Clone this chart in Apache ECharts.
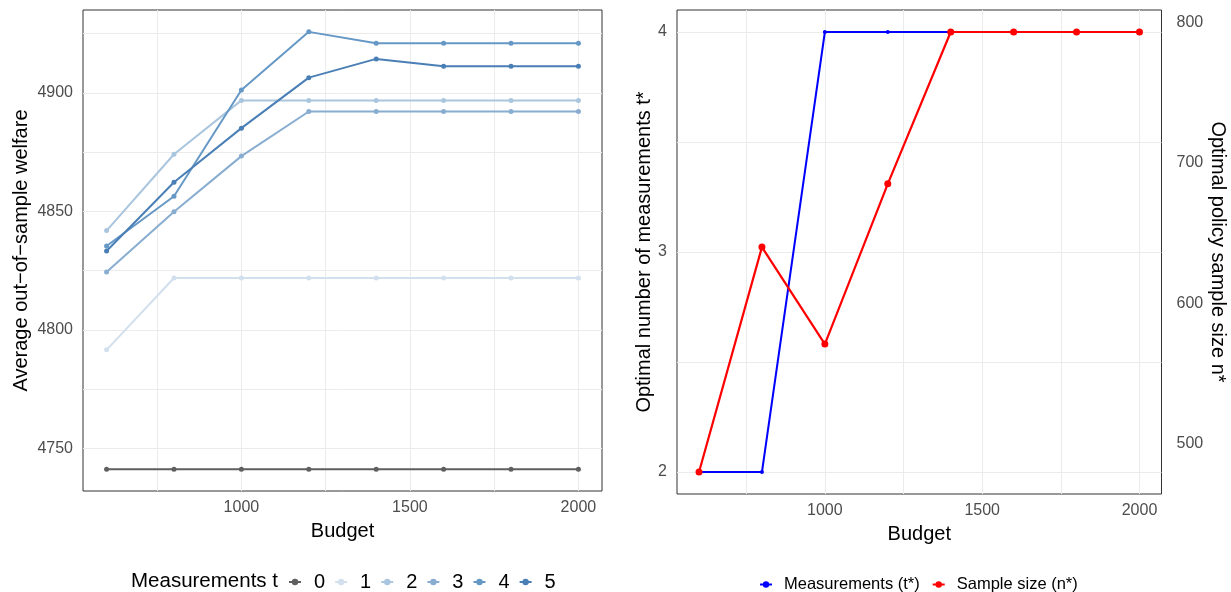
<!DOCTYPE html>
<html>
<head>
<meta charset="utf-8">
<script src="https://cdn.jsdelivr.net/npm/echarts@6/dist/echarts.min.js"></script>
<style>
html,body{margin:0;padding:0;background:#fff;}
#chart{width:1231px;height:592px;}
</style>
</head>
<body>
<div id="chart"></div>
<script>
// ---------- data ----------
const budget = [600, 800, 1000, 1200, 1400, 1600, 1800, 2000];
const measurementLevels = ['0', '1', '2', '3', '4', '5'];
const welfare_t0 = [4741.3, 4741.3, 4741.3, 4741.3, 4741.3, 4741.3, 4741.3, 4741.3];
const welfare_t1 = [4791.6, 4821.9, 4821.9, 4821.9, 4821.9, 4821.9, 4821.9, 4821.9];
const welfare_t2 = [4841.9, 4874.1, 4896.8, 4896.8, 4896.8, 4896.8, 4896.8, 4896.8];
const welfare_t3 = [4824.4, 4849.8, 4873.3, 4892.1, 4892.1, 4892.1, 4892.1, 4892.1];
const welfare_t4 = [4835.4, 4856.4, 4901.2, 4925.7, 4920.9, 4920.9, 4920.9, 4920.9];
const welfare_t5 = [4833.3, 4862.3, 4885.1, 4906.4, 4914.3, 4911.2, 4911.2, 4911.2];
const tStar = [2, 2, 4, 4, 4, 4, 4, 4];
const nStar = [480, 640, 571, 685, 793, 793, 793, 793];
const xTickLabels = [1000, 1500, 2000];
const xGridValues = [750, 1000, 1250, 1500, 1750, 2000];
const welfareTickLabels = [4750, 4800, 4850, 4900];
const welfareGridValues = [4750, 4775, 4800, 4825, 4850, 4875, 4900, 4925];
const tTickLabels = [2, 3, 4];
const tGridValues = [2, 2.5, 3, 3.5, 4];
const nTickLabels = [500, 600, 700, 800];

// ---------- styles ----------
const welfareSeries = [welfare_t0, welfare_t1, welfare_t2, welfare_t3, welfare_t4, welfare_t5];
const levelColors = ['#5f5f5f', '#d2e0ee', '#aac5de', '#88add1', '#6698c6', '#4a7fb6'];
const FONT = "'Liberation Sans', Arial, Helvetica, sans-serif";
const GRID_LINE = {show: true, lineStyle: {color: '#ebebeb', width: 1}};
const plain = v => String(v);

function expand(arr, f) {
  const lo = Math.min(...arr), hi = Math.max(...arr);
  const d = (hi - lo) * f;
  return [lo - d, hi + d];
}
const xr = expand(budget, 0.05);
const wr = expand([].concat(...welfareSeries), 0.05);
const tr = expand(tStar, 0.05);
// secondary axis: linear map n -> t, aligning n range with t range
const nLo = Math.min(...nStar), nHi = Math.max(...nStar);
const tLo = Math.min(...tStar), tHi = Math.max(...tStar);
const slope = (nHi - nLo) / (tHi - tLo);
const nr = [nLo + (tr[0] - tLo) * slope, nLo + (tr[1] - tLo) * slope];

function xAxis(gridIndex) {
  return {
    type: 'value', gridIndex, min: xr[0], max: xr[1],
    name: 'Budget', nameLocation: 'middle', nameGap: 30,
    nameTextStyle: {fontFamily: FONT, fontSize: 20, color: '#000'},
    axisLine: {show: false}, axisTick: {show: false, customValues: xGridValues},
    axisLabel: {customValues: xTickLabels, formatter: plain, fontFamily: FONT, fontSize: 16, color: '#4d4d4d', margin: 9},
    splitLine: GRID_LINE
  };
}

const series = [];
welfareSeries.forEach((vals, i) => {
  series.push({
    name: measurementLevels[i], type: 'line', xAxisIndex: 0, yAxisIndex: 0,
    data: budget.map((b, j) => [b, vals[j]]),
    symbol: 'circle', symbolSize: 5, showSymbol: true,
    lineStyle: {color: levelColors[i], width: 2},
    itemStyle: {color: levelColors[i]},
    emphasis: {disabled: true}, animation: false, z: 2 + i
  });
});
series.push({
  name: 'Measurements (t*)', type: 'line', xAxisIndex: 1, yAxisIndex: 1,
  data: budget.map((b, j) => [b, tStar[j]]),
  symbol: 'circle', symbolSize: 4,
  lineStyle: {color: '#0000ff', width: 2}, itemStyle: {color: '#0000ff'},
  emphasis: {disabled: true}, animation: false, z: 3
});
series.push({
  name: 'Sample size (n*)', type: 'line', xAxisIndex: 1, yAxisIndex: 2,
  data: budget.map((b, j) => [b, nStar[j]]),
  symbol: 'circle', symbolSize: 7,
  lineStyle: {color: '#ff0000', width: 2.2}, itemStyle: {color: '#ff0000'},
  emphasis: {disabled: true}, animation: false, z: 4
});

const option = {
  backgroundColor: '#fff',
  animation: false,
  title: {
    text: 'Measurements t', left: 126, top: 566,
    textStyle: {fontFamily: FONT, fontSize: 20.5, fontWeight: 'normal', color: '#000'}
  },
  legend: [
    {
      data: measurementLevels, left: 283, top: 567, orient: 'horizontal',
      itemWidth: 12, itemHeight: 8, itemGap: 9,
      textStyle: {fontFamily: FONT, fontSize: 20, color: '#000', padding: [0, 0, 0, 8]},
      selectedMode: false
    },
    {
      data: ['Measurements (t*)', 'Sample size (n*)'], left: 754, top: 571,
      itemWidth: 12, itemHeight: 8, itemGap: 12,
      textStyle: {fontFamily: FONT, fontSize: 16.5, color: '#000', padding: [0, 0, 0, 7]},
      selectedMode: false
    }
  ],
  grid: [
    {left: 83, top: 10, width: 519, height: 481, show: true, borderColor: '#333', borderWidth: 1, backgroundColor: 'transparent'},
    {left: 677, top: 10, width: 484.5, height: 484, show: true, borderColor: '#333', borderWidth: 1, backgroundColor: 'transparent'}
  ],
  xAxis: [xAxis(0), xAxis(1)],
  yAxis: [
    {
      type: 'value', gridIndex: 0, min: wr[0], max: wr[1],
      name: 'Average out\u2212of\u2212sample welfare', nameLocation: 'middle', nameGap: 52,
      nameTextStyle: {fontFamily: FONT, fontSize: 20, color: '#000'},
      axisLine: {show: false}, axisTick: {show: false, customValues: welfareGridValues},
      axisLabel: {customValues: welfareTickLabels, formatter: plain, fontFamily: FONT, fontSize: 16, color: '#4d4d4d', margin: 10},
      splitLine: GRID_LINE
    },
    {
      type: 'value', gridIndex: 1, min: tr[0], max: tr[1],
      name: 'Optimal number of measurements t*', nameLocation: 'middle', nameGap: 20,
      nameTextStyle: {fontFamily: FONT, fontSize: 20, color: '#000'},
      axisLine: {show: false}, axisTick: {show: false, customValues: tGridValues},
      axisLabel: {customValues: tTickLabels, formatter: plain, fontFamily: FONT, fontSize: 16, color: '#4d4d4d', margin: 10},
      splitLine: GRID_LINE
    },
    {
      type: 'value', gridIndex: 1, position: 'right', min: nr[0], max: nr[1],
      name: 'Optimal policy sample size n*', nameLocation: 'middle', nameGap: 44, nameRotate: -90,
      nameTextStyle: {fontFamily: FONT, fontSize: 20, color: '#000'},
      axisLine: {show: false}, axisTick: {show: false, customValues: nTickLabels},
      axisLabel: {customValues: nTickLabels, formatter: plain, fontFamily: FONT, fontSize: 16, color: '#4d4d4d', margin: 15},
      splitLine: {show: false}
    }
  ],
  series
};

const chart = echarts.init(document.getElementById('chart'), null, {renderer: 'canvas'});
chart.setOption(option);
</script>
</body>
</html>
